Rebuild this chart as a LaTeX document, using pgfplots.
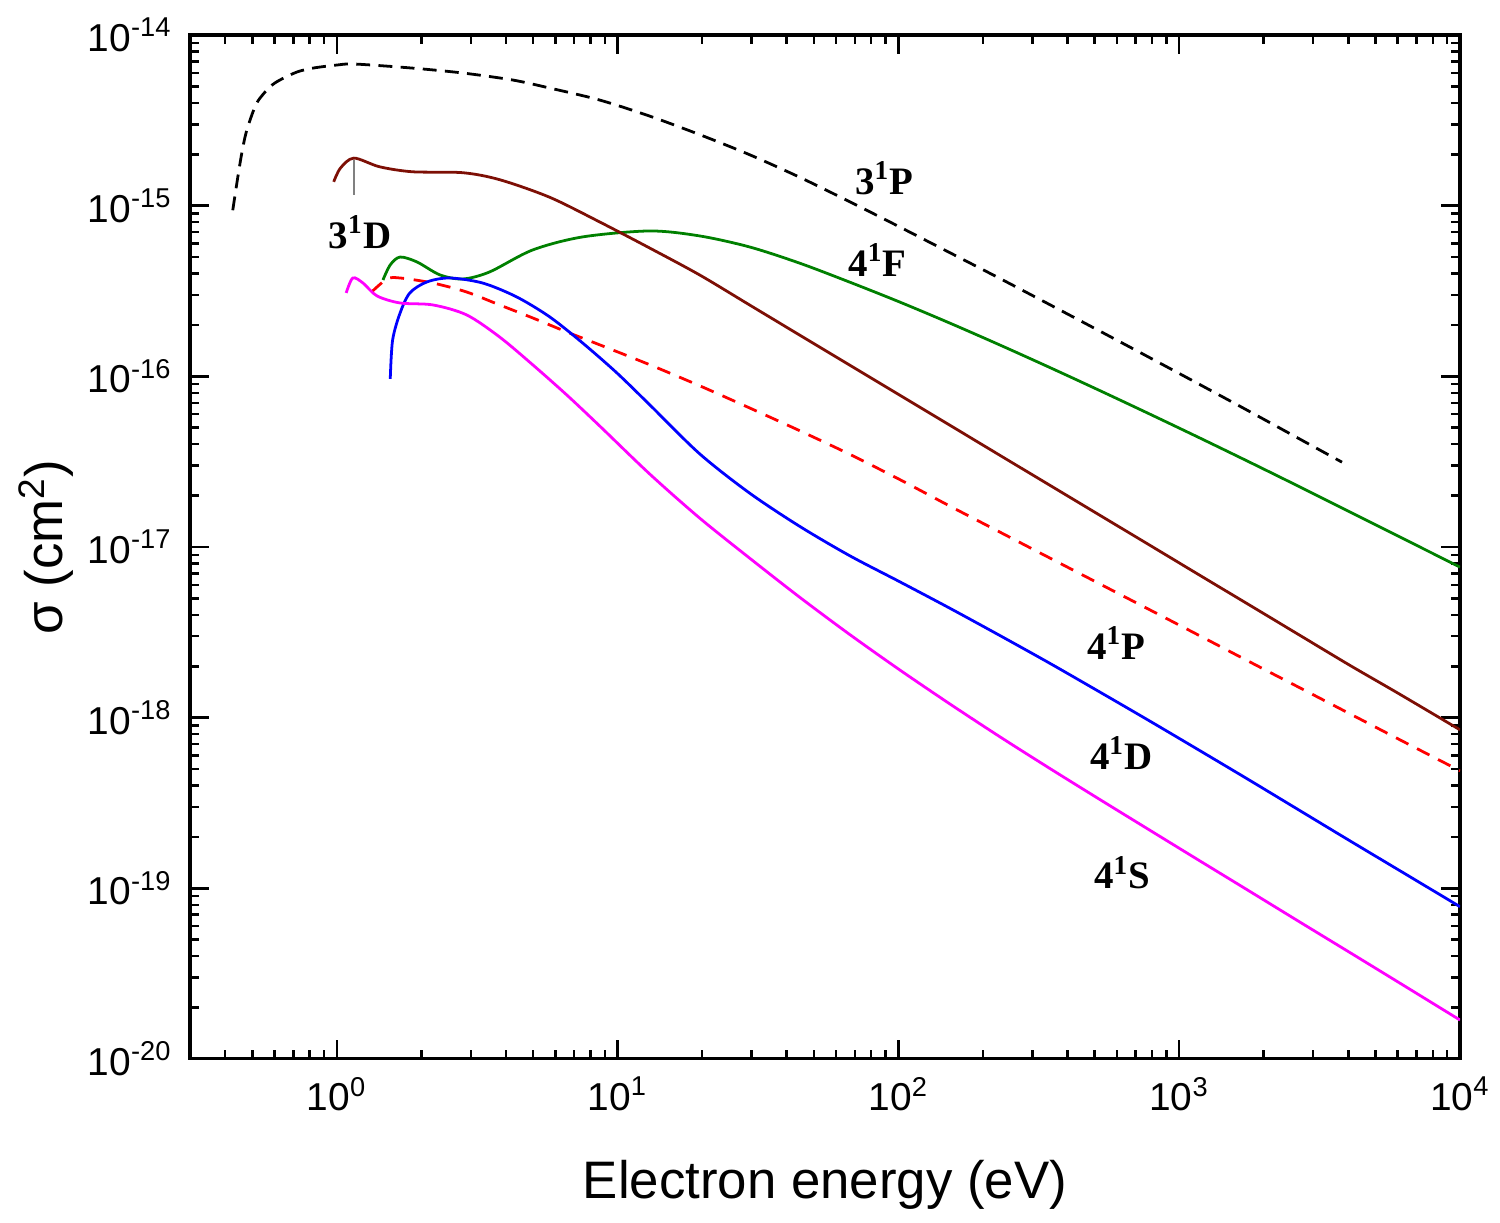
\documentclass[border=0pt]{standalone}
\usepackage{fontspec}
\setmainfont{Liberation Sans}
\newfontfamily\timesfont{Liberation Serif}
\usepackage{pgfplots}
\pgfplotsset{compat=1.18}
\definecolor{cbrown}{RGB}{125,15,5}
\definecolor{cgreen}{RGB}{0,128,0}
\definecolor{cmag}{RGB}{255,0,255}
\definecolor{cblue}{RGB}{0,0,255}
\definecolor{cred}{RGB}{255,0,0}
\pgfplotstableread{
x y
0.426 9.4e-16
0.444 1.47e-15
0.459 2.04e-15
0.478 2.77e-15
0.519 4.0e-15
0.578 4.96e-15
0.627 5.45e-15
0.721 6.07e-15
0.822 6.4e-15
1.0 6.67e-15
1.16 6.76e-15
1.86 6.4e-15
2.81 5.99e-15
4.23 5.45e-15
5.73 4.89e-15
8.63 4.16e-15
13.0 3.35e-15
19.58 2.61e-15
29.5 1.99e-15
44.4 1.47e-15
66.9 1.057e-15
100.8 7.52e-16
151.9 5.32e-16
228.8 3.76e-16
344.6 2.64e-16
519 1.849e-16
782 1.291e-16
1178 8.99e-17
1775 6.24e-17
2673 4.31e-17
3800 3.14e-17
}\tblack
\pgfplotstableread{
x y
0.975 1.38e-15
1.03 1.66e-15
1.15 1.90e-15
1.42 1.69e-15
1.86 1.58e-15
2.81 1.56e-15
3.80 1.42e-15
5.73 1.12e-15
8.63 8.03e-16
13.0 5.65e-16
19.58 3.93e-16
29.5 2.62e-16
44.4 1.748e-16
66.9 1.166e-16
100.8 7.78e-17
151.9 5.19e-17
228.8 3.46e-17
344.6 2.31e-17
519 1.542e-17
782 1.029e-17
1178 6.86e-18
1775 4.58e-18
2673 3.055e-18
4027 2.038e-18
6067 1.379e-18
10000 8.48e-19
}\tbrown
\pgfplotstableread{
x y
1.46 3.67e-16
1.55 4.5e-16
1.68 5.0e-16
1.93 4.68e-16
2.33 3.93e-16
2.81 3.72e-16
3.50 4.09e-16
4.98 5.50e-16
7.50 6.56e-16
13.0 7.11e-16
19.58 6.65e-16
29.5 5.73e-16
44.4 4.61e-16
66.9 3.57e-16
100.8 2.73e-16
151.9 2.056e-16
228.8 1.531e-16
344.6 1.130e-16
519 8.28e-17
782 6.03e-17
1178 4.37e-17
1775 3.15e-17
2673 2.26e-17
4027 1.614e-17
6067 1.151e-17
10000 7.62e-18
}\tgreen
\pgfplotstableread{
x y
1.33 3.12e-16
1.51 3.72e-16
1.68 3.77e-16
2.20 3.52e-16
2.90 3.12e-16
3.80 2.62e-16
4.98 2.20e-16
6.59 1.82e-16
8.63 1.53e-16
13.0 1.17e-16
19.58 8.81e-17
29.5 6.53e-17
44.4 4.81e-17
66.9 3.50e-17
100.8 2.49e-17
151.9 1.742e-17
228.8 1.227e-17
344.6 8.65e-18
519 6.10e-18
782 4.30e-18
1178 3.03e-18
1775 2.13e-18
2673 1.503e-18
4027 1.059e-18
6067 7.46e-19
10000 4.88e-19
}\tred
\pgfplotstableread{
x y
1.55 9.66e-17
1.58 1.63e-16
1.68 2.35e-16
1.82 3.08e-16
2.09 3.57e-16
2.52 3.77e-16
3.31 3.52e-16
4.37 2.92e-16
5.73 2.23e-16
7.50 1.57e-16
9.92 1.05e-16
13.0 6.82e-17
19.58 3.52e-17
29.5 2.07e-17
44.4 1.324e-17
66.9 8.91e-18
100.8 6.27e-18
151.9 4.39e-18
228.8 3.04e-18
344.6 2.09e-18
519 1.419e-18
782 9.59e-19
1178 6.44e-19
1775 4.31e-19
2673 2.87e-19
4027 1.91e-19
6067 1.276e-19
10000 7.80e-20
}\tblue
\pgfplotstableread{
x y
1.08 3.08e-16
1.14 3.77e-16
1.24 3.52e-16
1.39 2.96e-16
1.68 2.69e-16
2.20 2.62e-16
2.90 2.29e-16
3.80 1.70e-16
4.98 1.17e-16
6.59 7.78e-17
8.63 5.12e-17
13.0 2.68e-17
19.58 1.479e-17
29.5 8.61e-18
44.4 5.09e-18
66.9 3.08e-18
100.8 1.91e-18
151.9 1.208e-18
228.8 7.76e-19
344.6 5.06e-19
519 3.33e-19
782 2.20e-19
1178 1.455e-19
1775 9.64e-20
2673 6.38e-20
4027 4.23e-20
6067 2.80e-20
10000 1.69e-20
}\tmagenta
\begin{document}
\begin{tikzpicture}
\begin{axis}[
  scale only axis,
  width=457.2pt, height=368.6pt,
  xmode=log, ymode=log,
  xmin=0.3, xmax=1e4, ymin=1e-20, ymax=1e-14,
  xtick={1,10,100,1000,10000},
  xticklabels={10\textsuperscript{0},10\textsuperscript{1},10\textsuperscript{2},10\textsuperscript{3},10\textsuperscript{4}},
  ytick={1e-20,1e-19,1e-18,1e-17,1e-16,1e-15,1e-14},
  yticklabels={10\textsuperscript{-20},10\textsuperscript{-19},10\textsuperscript{-18},10\textsuperscript{-17},10\textsuperscript{-16},10\textsuperscript{-15},10\textsuperscript{-14}},
  minor xtick={0.4,0.5,0.6,0.7,0.8,0.9,2,3,4,5,6,7,8,9,20,30,40,50,60,70,80,90,200,300,400,500,600,700,800,900,2000,3000,4000,5000,6000,7000,8000,9000},
  minor ytick={2e-20,3e-20,4e-20,5e-20,6e-20,7e-20,8e-20,9e-20,
    2e-19,3e-19,4e-19,5e-19,6e-19,7e-19,8e-19,9e-19,
    2e-18,3e-18,4e-18,5e-18,6e-18,7e-18,8e-18,9e-18,
    2e-17,3e-17,4e-17,5e-17,6e-17,7e-17,8e-17,9e-17,
    2e-16,3e-16,4e-16,5e-16,6e-16,7e-16,8e-16,9e-16,
    2e-15,3e-15,4e-15,5e-15,6e-15,7e-15,8e-15,9e-15},
  tick align=inside,
  major tick length=6.8pt, minor tick length=3.4pt,
  every tick/.append style={black, line width=0.9pt},
  axis line style={line width=1.1pt},
  tick label style={font=\fontsize{14}{16}\selectfont},
  xticklabel style={yshift=-3pt},
  yticklabel style={xshift=-3pt},
  xlabel={Electron energy (eV)},
  ylabel={σ (cm\textsuperscript{2})},
  xlabel style={font=\fontsize{19}{22}\selectfont, at={(rel axis cs:0.5,0)}, anchor=center, yshift=-45.4pt},
  ylabel style={font=\fontsize{19}{22}\selectfont, at={(rel axis cs:0,0.5)}, anchor=center, yshift=51.8pt},
  clip=true,
]
\coordinate (bl) at (rel axis cs:0,0);
\coordinate (tr) at (rel axis cs:1,1);
\addplot[black, line width=1pt, dash pattern=on 5pt off 3pt, smooth, tension=0.5] table {\tblack};
\addplot[cgreen, line width=1pt, smooth, tension=0.5] table {\tgreen};
\addplot[cbrown, line width=1pt, smooth, tension=0.5] table {\tbrown};
\addplot[cred, line width=1pt, dash pattern=on 5pt off 3.5pt, smooth, tension=0.5] table {\tred};
\addplot[cblue, line width=1pt, smooth, tension=0.5] table {\tblue};
\addplot[cmag, line width=1pt, smooth, tension=0.5] table {\tmagenta};
\draw[gray, line width=0.6pt] (axis cs:1.15,1.85e-15) -- (axis cs:1.15,1.16e-15);
\begin{scope}[every node/.style={font=\timesfont\bfseries\fontsize{14}{16}\selectfont}]
\node at (axis cs:1.21,7.0e-16) {3\textsuperscript{1}D};
\node at (axis cs:89.1,1.45e-15) {3\textsuperscript{1}P};
\node at (axis cs:84.2,4.81e-16) {4\textsuperscript{1}F};
\node at (axis cs:597,2.74e-18) {4\textsuperscript{1}P};
\node at (axis cs:622,6.22e-19) {4\textsuperscript{1}D};
\node at (axis cs:627,1.23e-19) {4\textsuperscript{1}S};
\end{scope}
\end{axis}
\pgfresetboundingbox
\path ([shift={(-68.4pt,-59pt)}]bl) rectangle ([shift={(14.4pt,12.6pt)}]tr);
\end{tikzpicture}
\end{document}
